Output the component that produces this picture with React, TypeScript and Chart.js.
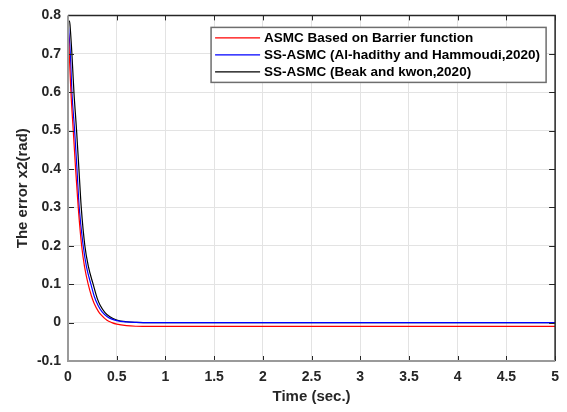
import React, { useEffect, useRef } from "react";
import { Chart, registerables } from "chart.js";

Chart.register(...registerables);

// ---- Data ----
const seriesLabels = [
  "ASMC Based on Barrier function",
  "SS-ASMC (Al-hadithy and Hammoudi,2020)",
  "SS-ASMC (Beak and kwon,2020)",
];
const seriesColors = ["#ff0000", "#0000ff", "#000000"];

const redTime = [0, 0.013, 0.03, 0.054, 0.078, 0.105, 0.14, 0.17, 0.207, 0.24, 0.27, 0.31, 0.34, 0.4, 0.45, 0.5, 0.6, 0.7, 0.85, 1.5, 3, 5];
const redError = [0.785, 0.7, 0.6, 0.5, 0.4, 0.3, 0.2, 0.145, 0.1, 0.07, 0.049, 0.03, 0.02, 0.006, 0.0, -0.004, -0.008, -0.0095, -0.01, -0.01, -0.01, -0.01];

const blueTime = [0, 0.024, 0.04, 0.068, 0.092, 0.115, 0.156, 0.19, 0.235, 0.27, 0.31, 0.35, 0.4, 0.45, 0.5, 0.6, 0.7, 0.85, 1.5, 3, 5];
const blueError = [0.785, 0.7, 0.6, 0.5, 0.4, 0.3, 0.2, 0.145, 0.1, 0.068, 0.044, 0.028, 0.016, 0.009, 0.005, 0.0017, 0.0005, 0.0, 0.0, 0.0, 0.0];

const blackTime = [0, 0.008, 0.016, 0.025, 0.04, 0.061, 0.088, 0.112, 0.136, 0.173, 0.21, 0.258, 0.3, 0.33, 0.38, 0.43, 0.5, 0.6, 0.7, 0.85, 1.5, 3, 5];
const blackError = [0.78, 0.785, 0.785, 0.76, 0.7, 0.6, 0.5, 0.4, 0.3, 0.2, 0.145, 0.1, 0.063, 0.045, 0.026, 0.015, 0.0068, 0.0022, 0.0007, 0.0, 0.0, 0.0, 0.0];

const xTicksMin = 0;
const xTicksMax = 5;
const xTickStep = 0.5;
const yTicksMin = -0.1;
const yTicksMax = 0.8;
const yTickStep = 0.1;

const FONT = "'Liberation Sans', Arial, sans-serif";

function toPoints(t: number[], v: number[]) {
  return t.map((tt, i) => ({ x: tt, y: v[i] }));
}

const framePlugin = {
  id: "matlabFrame",
  afterDatasetsDraw(chart: any) {
    const { ctx, chartArea, scales } = chart;
    const { left, right, top, bottom } = chartArea;
    const xs = scales.x;
    const ys = scales.y;
    ctx.save();
    // inner ticks
    ctx.strokeStyle = "#262626";
    ctx.lineWidth = 1;
    ctx.beginPath();
    xs.ticks.forEach((t: any) => {
      const px = Math.round(xs.getPixelForValue(t.value)) + 0.5;
      ctx.moveTo(px, bottom);
      ctx.lineTo(px, bottom - 5);
      ctx.moveTo(px, top);
      ctx.lineTo(px, top + 5);
    });
    ys.ticks.forEach((t: any) => {
      const py = Math.round(ys.getPixelForValue(t.value)) + 0.5;
      ctx.moveTo(left, py);
      ctx.lineTo(left + 6, py);
      ctx.moveTo(right, py);
      ctx.lineTo(right - 6, py);
    });
    ctx.stroke();
    // top and right borders (dark)
    ctx.strokeStyle = "#262626";
    ctx.lineWidth = 1.5;
    ctx.beginPath();
    ctx.moveTo(left, top);
    ctx.lineTo(right, top);
    ctx.lineTo(right, bottom);
    ctx.stroke();
    // left and bottom axes (gray)
    ctx.strokeStyle = "#9a9a9a";
    ctx.lineWidth = 2;
    ctx.beginPath();
    ctx.moveTo(left, top);
    ctx.lineTo(left, bottom);
    ctx.lineTo(right, bottom);
    ctx.stroke();
    ctx.restore();
  },
  afterDraw(chart: any) {
    const { ctx, chartArea } = chart;
    const { right, top } = chartArea;
    ctx.save();
    ctx.font = `bold 13.5px ${FONT}`;
    const datasets = chart.data.datasets;
    let maxW = 0;
    datasets.forEach((d: any) => {
      maxW = Math.max(maxW, ctx.measureText(d.label).width);
    });
    const boxRight = right - 9;
    const boxLeft = boxRight - 6 - maxW - 53;
    const boxTop = top + 12;
    const rowH = 17;
    const boxBottom = boxTop + 10 + rowH * 2 + 11;
    ctx.fillStyle = "#ffffff";
    ctx.fillRect(boxLeft, boxTop, boxRight - boxLeft, boxBottom - boxTop);
    ctx.strokeStyle = "#6e6e6e";
    ctx.lineWidth = 1.5;
    ctx.strokeRect(boxLeft, boxTop, boxRight - boxLeft, boxBottom - boxTop);
    datasets.forEach((d: any, i: number) => {
      const yy = boxTop + 10.5 + i * rowH;
      ctx.strokeStyle = d.borderColor;
      ctx.lineWidth = 1.2;
      ctx.beginPath();
      ctx.moveTo(boxLeft + 4, yy);
      ctx.lineTo(boxLeft + 49, yy);
      ctx.stroke();
      ctx.fillStyle = "#000000";
      ctx.textBaseline = "middle";
      ctx.textAlign = "left";
      ctx.fillText(d.label, boxLeft + 53, yy + 0.5);
    });
    ctx.restore();
  },
};

function fmt(v: number) {
  const r = Math.round(v * 10) / 10;
  return String(r === 0 ? 0 : r);
}

export default function App() {
  const canvasRef = useRef<HTMLCanvasElement | null>(null);

  useEffect(() => {
    document.body.style.margin = "0";
    const canvas = canvasRef.current;
    if (!canvas) return;
    const times = [redTime, blueTime, blackTime];
    const values = [redError, blueError, blackError];
    const chart = new Chart(canvas, {
      type: "line",
      data: {
        datasets: seriesLabels.map((label, i) => ({
          label,
          data: toPoints(times[i], values[i]),
          borderColor: seriesColors[i],
          backgroundColor: seriesColors[i],
          borderWidth: 1.2,
          pointRadius: 0,
          fill: false,
          cubicInterpolationMode: "monotone" as const,
        })),
      },
      options: {
        responsive: false,
        animation: false,
        devicePixelRatio: 1,
        layout: { padding: { top: 10, right: 9, left: 0, bottom: 0 } },
        plugins: {
          legend: { display: false },
          tooltip: { enabled: false },
        },
        scales: {
          x: {
            type: "linear",
            min: xTicksMin,
            max: xTicksMax,
            border: { display: false },
            grid: { color: "#e3e3e3", lineWidth: 1, drawTicks: false },
            ticks: {
              stepSize: xTickStep,
              padding: 8,
              color: "#262626",
              font: { family: FONT, size: 14, weight: "bold" },
              callback: (v: any) => fmt(Number(v)),
              maxRotation: 0,
              autoSkip: false,
            },
            title: {
              display: true,
              text: "Time (sec.)",
              color: "#262626",
              font: { family: FONT, size: 15, weight: "bold" },
              padding: { top: 0, bottom: 6 },
            },
            afterFit: (scale: any) => {
              scale.height = 51;
            },
          },
          y: {
            type: "linear",
            min: yTicksMin,
            max: yTicksMax,
            border: { display: false },
            grid: { color: "#e3e3e3", lineWidth: 1, drawTicks: false },
            ticks: {
              stepSize: yTickStep,
              padding: 7,
              color: "#262626",
              font: { family: FONT, size: 14, weight: "bold" },
              callback: (v: any) => fmt(Number(v)),
              autoSkip: false,
            },
            title: {
              display: true,
              text: "The error x2(rad)",
              color: "#262626",
              font: { family: FONT, size: 15, weight: "bold" },
              padding: { top: 14, bottom: 0 },
            },
            afterFit: (scale: any) => {
              scale.width = 68;
            },
          },
        },
      },
      plugins: [framePlugin],
    });
    return () => chart.destroy();
  }, []);

  return (
    <div style={{ position: "absolute", left: 0, top: 0, width: 567, height: 412, background: "#fff" }}>
      <canvas ref={canvasRef} width={567} height={412} style={{ width: 567, height: 412, display: "block" }} />
    </div>
  );
}
